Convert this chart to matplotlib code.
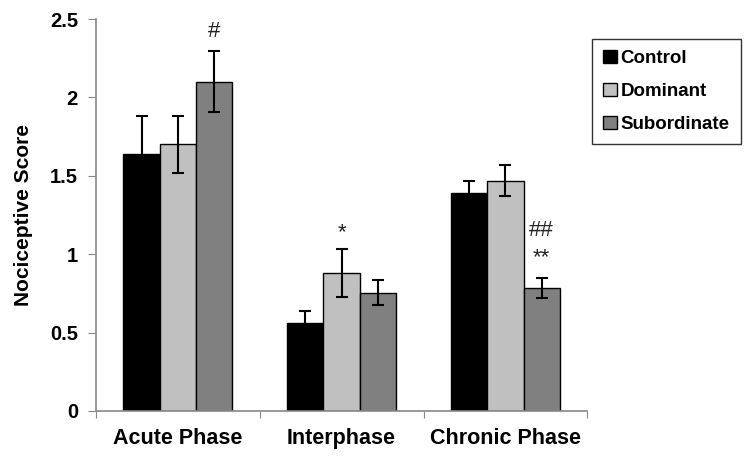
import numpy as np
import matplotlib
matplotlib.use("Agg")
import matplotlib.pyplot as plt

plt.rcParams['font.family'] = ['Liberation Sans', 'DejaVu Sans']

#data
phases = ["Acute Phase", "Interphase", "Chronic Phase"]
groups = ["Control", "Dominant", "Subordinate"]
control = [1.64, 0.56, 1.39]
control_err = [0.24, 0.08, 0.08]
dominant = [1.70, 0.88, 1.47]
dominant_err = [0.18, 0.15, 0.10]
subordinate = [2.10, 0.755, 0.785]
subordinate_err = [0.195, 0.082, 0.065]
colors = ["#000000", "#c0c0c0", "#808080"]

#significance marks: (phase index, group index, height, text)
marks = [(0, 2, 2.42, "#"), (1, 1, 1.14, "*"), (2, 2, 1.15, "##"), (2, 2, 0.98, "**")]

fig = plt.figure(figsize=(7.5, 4.59), dpi=100)
ax = fig.add_axes([0.128, 0.1046, 0.655, 0.854])

x = np.arange(len(phases))
w = 0.222
series = [(control, control_err), (dominant, dominant_err), (subordinate, subordinate_err)]
for i, (vals, errs) in enumerate(series):
    pos = x + (i - 1) * w
    ax.bar(pos, vals, w, color=colors[i], edgecolor="black", linewidth=1.0,
           label=groups[i], zorder=2)
    ax.errorbar(pos, vals, yerr=errs, fmt="none", ecolor="black",
                elinewidth=1.5, capsize=4.5, capthick=1.5, zorder=3)

for p, g, h, t in marks:
    ax.text(x[p] + (g - 1) * w, h, t, ha="center", va="center", fontsize=16,
            color="#222222")

ax.set_xlim(-0.5, 2.5)
ax.set_ylim(0, 2.5)
ax.set_yticks([0, 0.5, 1, 1.5, 2, 2.5])
ax.set_yticklabels(["0", "0.5", "1", "1.5", "2", "2.5"])
ax.set_xticks([-0.5, 0.5, 1.5, 2.5])
ax.set_xticklabels([])
ax.set_xticks(x, minor=True)
ax.set_xticklabels(phases, minor=True, fontsize=15.5, fontweight="bold")
ax.tick_params(axis="x", which="minor", length=0, pad=12)
ax.tick_params(axis="x", which="major", length=5, color="#888888", direction="out")
ax.tick_params(axis="y", length=6, color="#888888", direction="out", pad=7,
               labelsize=14.5)
for lab in ax.get_yticklabels():
    lab.set_fontweight("bold")

for s in ["top", "right"]:
    ax.spines[s].set_visible(False)
for s in ["left", "bottom"]:
    ax.spines[s].set_color("#888888")
    ax.spines[s].set_linewidth(1.2)

ax.set_ylabel("Nociceptive Score", fontsize=15, fontweight="bold", labelpad=12)

leg = ax.legend(loc="upper left", bbox_to_anchor=(1.01, 0.95),
                prop={"weight": "bold", "size": 13.5}, handlelength=0.7,
                handleheight=0.7, handletextpad=0.2, fancybox=False,
                edgecolor="#333333", framealpha=1, borderpad=0.6,
                labelspacing=0.85, borderaxespad=0)
leg.get_frame().set_linewidth(1.0)

fig.savefig("out.png", dpi=100)
